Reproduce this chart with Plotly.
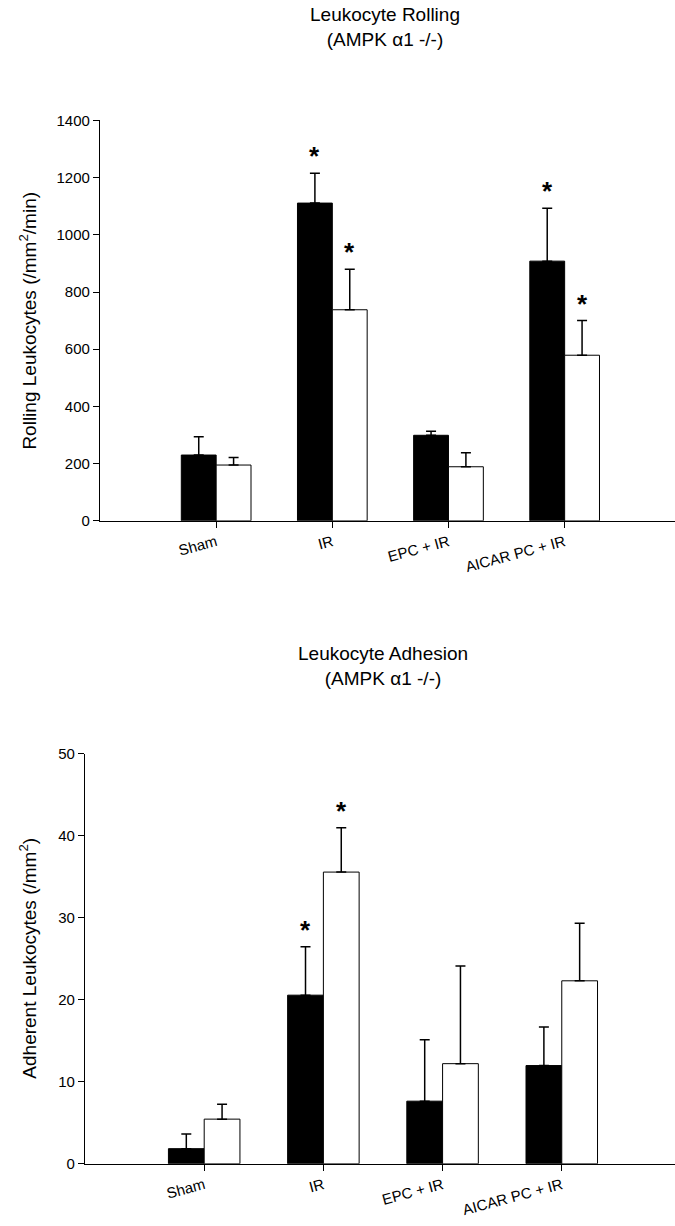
import plotly.graph_objects as go

W, H = 675, 1226

categories = ["Sham", "IR", "EPC + IR", "AICAR PC + IR"]

# Rolling (top chart)
roll_black = [230, 1111, 299, 908]
roll_black_err = [64, 104, 14, 185]
roll_white = [195, 738, 189, 579]
roll_white_err = [26, 142, 49, 121]
roll_star_black = [False, True, False, True]
roll_star_white = [False, True, False, True]

# Adhesion (bottom chart)
adh_black = [1.84, 20.55, 7.63, 11.97]
adh_black_err = [1.8, 5.9, 7.5, 4.7]
adh_white = [5.44, 35.55, 12.2, 22.3]
adh_white_err = [1.8, 5.4, 11.9, 7.0]
adh_star_black = [False, True, False, False]
adh_star_white = [False, True, False, False]

roll_ticks = [0, 200, 400, 600, 800, 1000, 1200, 1400]
adh_ticks = [0, 10, 20, 30, 40, 50]

FONT = "Liberation Sans, Arial, sans-serif"

fig = go.Figure()

def add_pair(black, berr, white, werr, xa, ya):
    fig.add_trace(go.Bar(
        x=categories, y=black, xaxis=xa, yaxis=ya,
        marker=dict(color="black", line=dict(color="black", width=1)),
        error_y=dict(type="data", array=berr, arrayminus=[0]*len(berr), symmetric=False,
                     color="black", thickness=1.5, width=5),
        offsetgroup="a", showlegend=False))
    fig.add_trace(go.Bar(
        x=categories, y=white, xaxis=xa, yaxis=ya,
        marker=dict(color="white", line=dict(color="black", width=1)),
        error_y=dict(type="data", array=werr, arrayminus=[0]*len(werr), symmetric=False,
                     color="black", thickness=1.5, width=5),
        offsetgroup="b", showlegend=False))

add_pair(roll_black, roll_black_err, roll_white, roll_white_err, "x", "y")
add_pair(adh_black, adh_black_err, adh_white, adh_white_err, "x2", "y2")

def stars(black, berr, white, werr, sb, sw, xref, yref):
    for i in range(len(categories)):
        if sb[i]:
            fig.add_annotation(x=i - 0.15, y=black[i] + berr[i], xref=xref, yref=yref,
                               text="<b>*</b>", showarrow=False, xanchor="center",
                               yanchor="bottom", yshift=0,
                               font=dict(size=26, color="black", family=FONT))
        if sw[i]:
            fig.add_annotation(x=i + 0.15, y=white[i] + werr[i], xref=xref, yref=yref,
                               text="<b>*</b>", showarrow=False, xanchor="center",
                               yanchor="bottom", yshift=0,
                               font=dict(size=26, color="black", family=FONT))

stars(roll_black, roll_black_err, roll_white, roll_white_err, roll_star_black, roll_star_white, "x", "y")
stars(adh_black, adh_black_err, adh_white, adh_white_err, adh_star_black, adh_star_white, "x2", "y2")

def py(px):
    return 1 - px / H

axis_common = dict(showgrid=False, zeroline=False, showline=True, linecolor="black", linewidth=1.2,
                   ticks="outside", tickcolor="black", ticklen=6, tickwidth=1.2,
                   tickfont=dict(size=15, color="black", family=FONT))

fig.update_layout(
    width=W, height=H, margin=dict(l=0, r=0, t=0, b=0),
    paper_bgcolor="white", plot_bgcolor="white",
    barmode="group", bargap=0.4, bargroupgap=0,
    font=dict(family=FONT, color="black"),
    xaxis=dict(domain=[100 / W, 1], range=[-1, 3.95], anchor="y", tickangle=-15, **axis_common),
    yaxis=dict(domain=[py(519), py(113)], range=[0, 1400], tickvals=roll_ticks, anchor="x", **axis_common),
    xaxis2=dict(domain=[85 / W, 1], range=[-1, 3.95], anchor="y2", tickangle=-15, **axis_common),
    yaxis2=dict(domain=[py(1171), py(755)], range=[0, 50], tickvals=adh_ticks, anchor="x2", **axis_common),
)

# Titles
fig.add_annotation(x=385 / W, y=py(18), xref="paper", yref="paper",
                   text="Leukocyte Rolling<br>(AMPK α1 -/-)", showarrow=False,
                   xanchor="center", yanchor="middle",
                   font=dict(size=19, color="black", family=FONT))
fig.add_annotation(x=383 / W, y=py(666), xref="paper", yref="paper",
                   text="Leukocyte Adhesion<br>(AMPK α1 -/-)", showarrow=False,
                   xanchor="center", yanchor="middle",
                   font=dict(size=19, color="black", family=FONT))

# Y axis titles
fig.add_annotation(x=28 / W, y=py(316), xref="paper", yref="paper",
                   text="Rolling Leukocytes (/mm<sup>2</sup>/min)", showarrow=False, textangle=-90,
                   xanchor="center", yanchor="middle",
                   font=dict(size=19, color="black", family=FONT))
fig.add_annotation(x=28 / W, y=py(963), xref="paper", yref="paper",
                   text="Adherent Leukocytes (/mm<sup>2</sup>)", showarrow=False, textangle=-90,
                   xanchor="center", yanchor="middle",
                   font=dict(size=19, color="black", family=FONT))

fig.write_html("out.html")
